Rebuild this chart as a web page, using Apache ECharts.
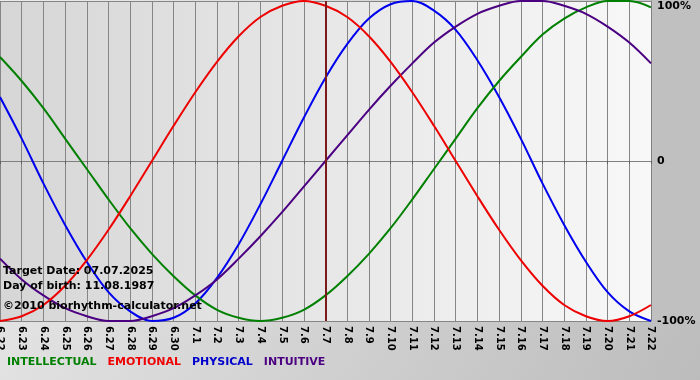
<!DOCTYPE html>
<html><head><meta charset="utf-8">
<script src="https://cdn.jsdelivr.net/npm/echarts@6/dist/echarts.min.js"></script>
<style>html,body{margin:0;padding:0;background:#fff}#c{width:700px;height:380px}</style>
</head><body><div id="c"></div>
<script>
const categories = ['6.22','6.23','6.24','6.25','6.26','6.27','6.28','6.29','6.30','7.1','7.2','7.3','7.4','7.5','7.6','7.7','7.8','7.9','7.10','7.11','7.12','7.13','7.14','7.15','7.16','7.17','7.18','7.19','7.20','7.21','7.22'];
const intellectual = [65,50,33,14,-5,-24,-42,-58,-72,-84,-93,-98,-100,-98,-93,-84,-72,-58,-42,-24,-5,14,33,50,65,79,89,96,100,100,96];
const emotional = [-100,-97,-90,-78,-62,-43,-22,0,22,43,62,78,90,97,100,97,90,78,62,43,22,0,-22,-43,-62,-78,-90,-97,-100,-97,-90];
const physical = [40,14,-14,-40,-63,-82,-94,-100,-98,-89,-73,-52,-27,0,27,52,73,89,98,100,94,82,63,40,14,-14,-40,-63,-82,-94,-100];
const intuitive = [-61,-74,-84,-92,-97,-100,-100,-97,-92,-84,-74,-61,-47,-32,-16,0,16,32,47,61,74,84,92,97,100,100,97,92,84,74,61];
const yTicks = {'100':'100%','0':'0','-100':'-100%'};
const targetDay = '7.7';
const infoLines = ['Target Date: 07.07.2025','Day of birth: 11.08.1987','©2010 biorhythm-calculator.net'];

const font = 'DejaVu Sans, Verdana, sans-serif';
const chart = echarts.init(document.getElementById('c'), null, {renderer:'canvas'});
const mk = (name, data, color) => ({
  name, type:'line', data, smooth:0.35, symbol:'none',
  lineStyle:{color, width:2}, itemStyle:{color}
});
const sPhys = mk('PHYSICAL', physical, '#0000ee');
const sInt = mk('INTELLECTUAL', intellectual, '#008000');
const sEmo = mk('EMOTIONAL', emotional, '#ee0000');
const sIntu = mk('INTUITIVE', intuitive, '#4b0082');
sIntu.markLine = {symbol:'none', silent:true, label:{show:false},
  lineStyle:{color:'#7a1a1a', width:2, type:'solid'}, data:[{xAxis:targetDay}]};
chart.setOption({
  animation:false,
  backgroundColor:{type:'linear',x:0,y:0,x2:1,y2:1,colorStops:[{offset:0,color:'#ececec'},{offset:1,color:'#bcbcbc'}]},
  grid:{left:0,right:49,top:1,bottom:59,show:true,borderWidth:0,outerBoundsMode:'none',containLabel:false,
    backgroundColor:{type:'linear',x:0,y:0,x2:1,y2:0,colorStops:[{offset:0,color:'#d6d6d6'},{offset:1,color:'#f8f8f8'}]}},
  graphic:[
    {type:'rect',right:0,top:0,shape:{width:49,height:322},style:{fill:'#c0c0c0'},z:-1},
    {type:'text',left:3,top:266,style:{text:infoLines[0],font:'bold 11px '+font,fill:'#000'},z:100},
    {type:'text',left:3,top:281,style:{text:infoLines[1],font:'bold 11px '+font,fill:'#000'},z:100},
    {type:'text',left:3,top:301,style:{text:infoLines[2],font:'bold 11px '+font,fill:'#000'},z:100}
  ],
  legend:{left:2,top:357,padding:0,itemWidth:0,itemHeight:0,itemGap:6,icon:'none',
    textStyle:{fontFamily:font,fontWeight:'bold',fontSize:11},
    data:[
      {name:'INTELLECTUAL',textStyle:{color:'#008000'}},
      {name:'EMOTIONAL',textStyle:{color:'#ee0000'}},
      {name:'PHYSICAL',textStyle:{color:'#0000cc'}},
      {name:'INTUITIVE',textStyle:{color:'#4b0082'}}
    ]},
  xAxis:{type:'category',data:categories,boundaryGap:false,
    axisLine:{lineStyle:{color:'#808080',width:1}},
    axisTick:{show:true,length:3,interval:0,lineStyle:{color:'#606060'}},
    splitLine:{show:true,interval:0,lineStyle:{color:'#858585',width:1}},
    axisLabel:{interval:0,rotate:-90,margin:5,color:'#000',fontFamily:font,fontWeight:'bold',fontSize:10,hideOverlap:false}},
  yAxis:{type:'value',position:'right',min:-100,max:100,interval:100,
    axisLine:{show:true,lineStyle:{color:'#808080'}},axisTick:{show:false},
    splitLine:{show:true,lineStyle:{color:'#858585',width:1}},
    axisLabel:{margin:6,color:'#000',fontFamily:font,fontWeight:'bold',fontSize:11,
      verticalAlignMaxLabel:'top',
      formatter:v=>yTicks[String(v)]}},
  series:[sPhys,sInt,sIntu,sEmo]
});
</script></body></html>
